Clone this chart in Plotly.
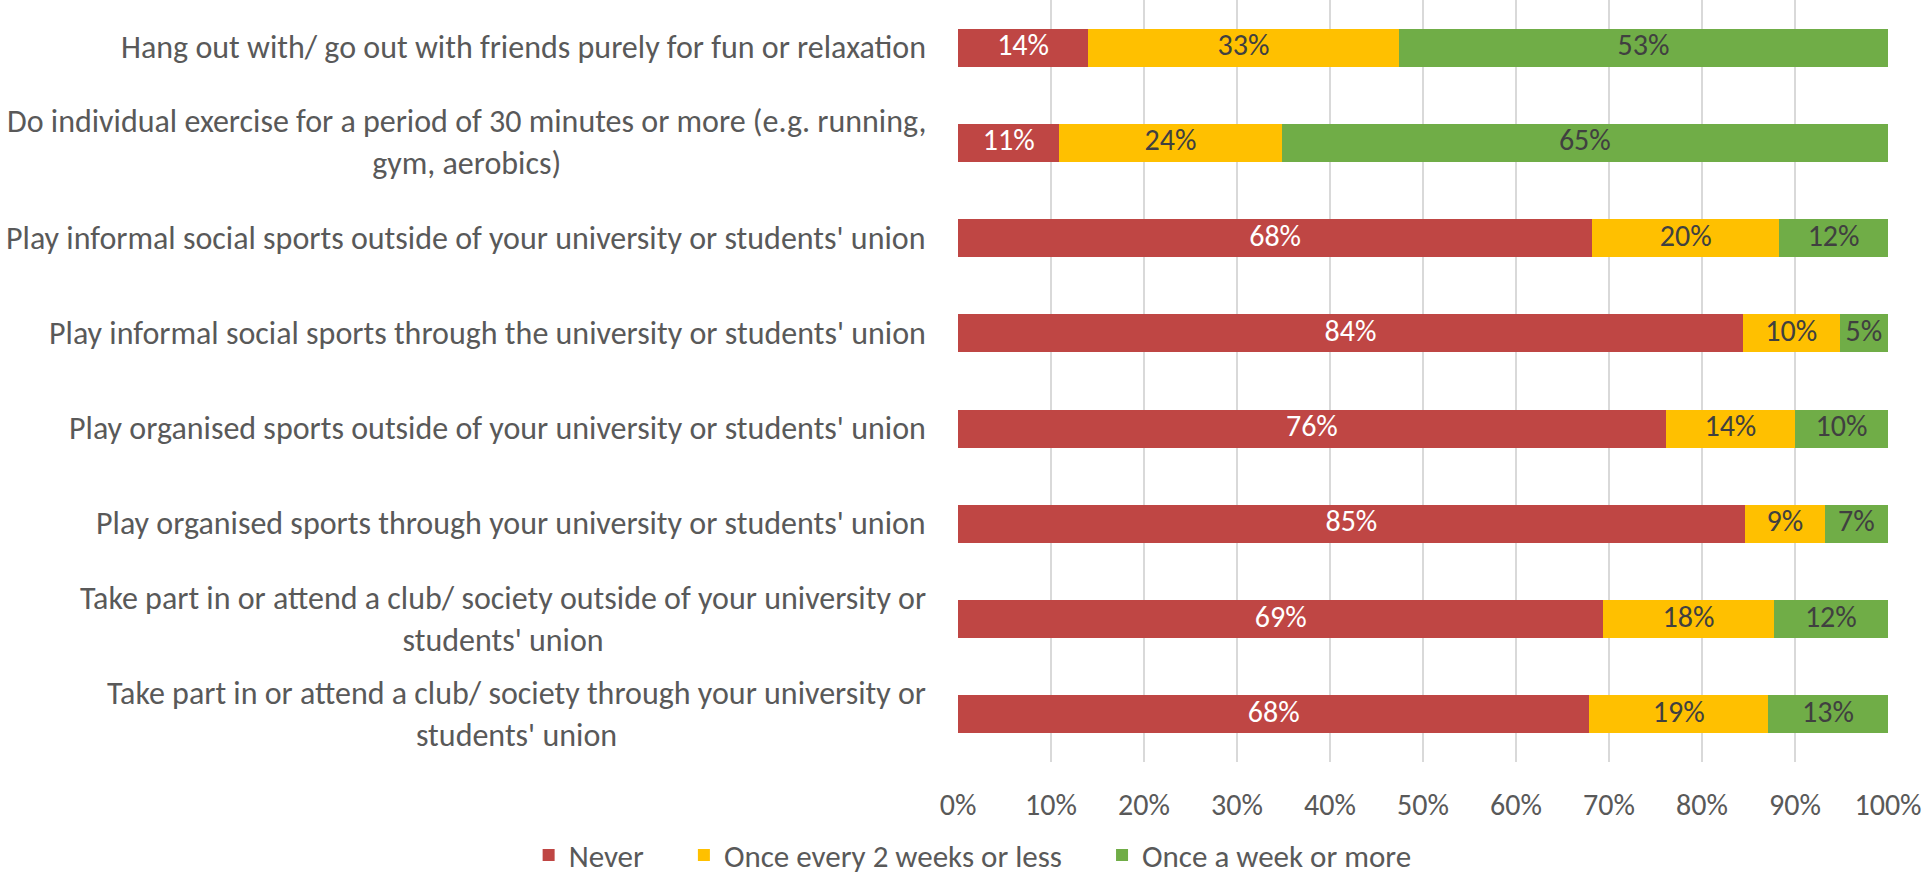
import plotly.graph_objects as go

# Activities, top to bottom
activities = [
    "Hang out with/ go out with friends purely for fun or relaxation",
    "Do individual exercise for a period of 30 minutes or more (e.g. running,<br>gym, aerobics)",
    "Play informal social sports outside of your university or students' union",
    "Play informal social sports through the university or students' union",
    "Play organised sports outside of your university or students' union",
    "Play organised sports through your university or students' union",
    "Take part in or attend a club/ society outside of your university or<br>students' union",
    "Take part in or attend a club/ society through your university or<br>students' union",
]

# Share of respondents (%) per frequency
never = [14.0, 10.9, 68.2, 84.4, 76.1, 84.6, 69.4, 67.9]
fortnightly = [33.4, 23.9, 20.1, 10.4, 13.9, 8.6, 18.3, 19.2]
weekly = [52.6, 65.2, 11.7, 5.2, 10.0, 6.8, 12.3, 12.9]

series_names = ["Never", "Once every 2 weeks or less", "Once a week or more"]
x_ticks = list(range(0, 101, 10))
x_tick_text = [f"{t}%" for t in x_ticks]

FONT = "Carlito, Lato, sans-serif"
GREY = "#595959"
DARK = "#404040"
LEGEND_PAD = "\u00a0" * 5  # extra room between legend entries

series = [
    (series_names[0], never, "#BF4644", "white"),
    (series_names[1], fortnightly, "#FFC000", DARK),
    (series_names[2], weekly, "#70AD47", DARK),
]

fig = go.Figure()
for i, (name, vals, color, _) in enumerate(series):
    label = name if i == len(series) - 1 else name + LEGEND_PAD
    fig.add_trace(go.Bar(
        y=activities, x=vals, name=label, orientation="h",
        marker=dict(color=color, line=dict(width=0)),
        hoverinfo="skip",
    ))

# Value labels centred in each stacked segment, at full size
base = [0.0] * len(activities)
for name, vals, _, tcolor in series:
    mids = [b + v / 2 for b, v in zip(base, vals)]
    fig.add_trace(go.Scatter(
        x=mids, y=activities, mode="text",
        text=[f"{v:.0f}%" for v in vals], textposition="middle center",
        textfont=dict(family=FONT, size=30, color=tcolor),
        showlegend=False, hoverinfo="skip",
    ))
    base = [b + v for b, v in zip(base, vals)]

# Category labels, centred per line and right-aligned against the plot
for act in activities:
    fig.add_annotation(
        x=0, xref="paper", y=act, yref="y", text=act, showarrow=False,
        xanchor="right", yanchor="middle", align="center", xshift=-30,
        font=dict(family=FONT, size=32, color=GREY),
    )

fig.update_layout(
    width=1926, height=879,
    margin=dict(l=958, r=38, t=0, b=117),
    barmode="stack", bargap=0.6,
    plot_bgcolor="white", paper_bgcolor="white",
    font=dict(family=FONT, size=30, color=GREY),
    xaxis=dict(
        range=[0, 100], tickmode="array", tickvals=x_ticks, ticktext=x_tick_text,
        showgrid=True, gridcolor="#D9D9D9", gridwidth=2,
        zeroline=False, showline=False, ticks="",
        tickfont=dict(family=FONT, size=30, color=GREY),
        ticklabelstandoff=22, fixedrange=True,
    ),
    yaxis=dict(
        autorange="reversed", showticklabels=False, showgrid=False,
        zeroline=False, showline=False, ticks="", fixedrange=True,
    ),
    legend=dict(
        orientation="h", xref="container", yref="container",
        x=0.505, xanchor="center", y=0.027, yanchor="middle",
        font=dict(family=FONT, size=31, color=GREY),
        traceorder="normal", itemwidth=30,
    ),
    showlegend=True,
)

fig.write_html("out.html")
